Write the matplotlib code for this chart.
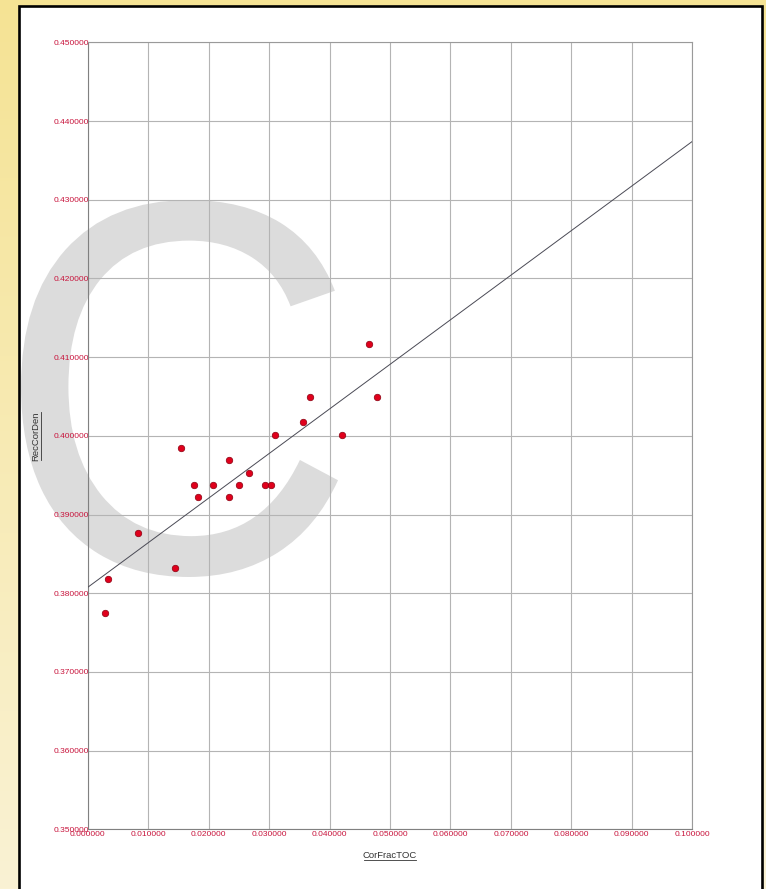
import numpy as np
import matplotlib
matplotlib.use("Agg")
import matplotlib.pyplot as plt
from matplotlib.patches import Rectangle, PathPatch
from matplotlib.lines import Line2D
from matplotlib.textpath import TextPath
from matplotlib.font_manager import FontProperties
from matplotlib.transforms import IdentityTransform, Affine2D

# Sample measurements
cor_frac_toc = [0.00291, 0.00341, 0.00827, 0.01444, 0.01538, 0.01763, 0.01829,
                0.02077, 0.02332, 0.02332, 0.02507, 0.02663, 0.02933, 0.03032,
                0.03103, 0.03556, 0.03682, 0.04201, 0.04653, 0.04790]
rec_cor_den = [0.37745, 0.38177, 0.38769, 0.38324, 0.39849, 0.39379, 0.39222,
               0.39379, 0.39689, 0.39226, 0.39379, 0.39531, 0.39379, 0.39379,
               0.40006, 0.40172, 0.40493, 0.40006, 0.41163, 0.40493]

x_ticks = [0.0, 0.01, 0.02, 0.03, 0.04, 0.05, 0.06, 0.07, 0.08, 0.09, 0.10]
y_ticks = [0.35, 0.36, 0.37, 0.38, 0.39, 0.40, 0.41, 0.42, 0.43, 0.44, 0.45]

W, H, DPI = 766, 889, 100
FONT = "Liberation Sans"
RED = "#c8143c"

fig = plt.figure(figsize=(W / DPI, H / DPI), dpi=DPI)

# Yellow backdrop with a soft vertical gradient
top = np.array([245, 227, 148]) / 255
bot = np.array([250, 242, 212]) / 255
t = np.linspace(0, 1, H)[:, None]
grad = top[None, :] * (1 - t) + bot[None, :] * t
grad = np.repeat(grad[:, None, :], W, axis=1)
fig.figimage(grad, 0, 0, zorder=-5)

# White panel with black border
panel = Rectangle((19, -20), 743, 883.5 + 20, facecolor="white",
                  edgecolor="black", linewidth=1.9,
                  transform=IdentityTransform(), zorder=-3)
fig.add_artist(panel)

# Large gray "C" mark behind the plot
tp = TextPath((0, 0), "C", size=100, prop=FontProperties(family=FONT))
ext = tp.get_extents()
x0, x1 = 21, 338
y0, y1 = H - 577, H - 200
tr = (Affine2D().translate(-ext.x0, -ext.y0)
      .scale((x1 - x0) / ext.width, (y1 - y0) / ext.height)
      .translate(x0, y0))
cpatch = PathPatch(tr.transform_path(tp), facecolor="#dcdcdc", edgecolor="none",
                   transform=IdentityTransform(), zorder=-2)
fig.add_artist(cpatch)

# Plot area
L, R, T, B = 87.7, 692.3, 42.3, 829.3
ax = fig.add_axes([L / W, (H - B) / H, (R - L) / W, (B - T) / H])
ax.set_facecolor("none")
ax.set_xlim(0, 0.1)
ax.set_ylim(0.35, 0.45)
ax.set_xticks(x_ticks)
ax.set_yticks(y_ticks)
ax.set_xticklabels([f"{v:.6f}" for v in x_ticks])
ax.set_yticklabels([f"{v:.6f}" for v in y_ticks])
ax.tick_params(length=0, pad=1, labelsize=6, labelcolor=RED)
for lab in ax.get_xticklabels() + ax.get_yticklabels():
    lab.set_fontfamily(FONT)
for lab in ax.get_yticklabels():
    lab.set_horizontalalignment("right")
ax.tick_params(axis="y", pad=-1)
ax.grid(True, color="#b4b4b4", linewidth=0.8)
ax.set_axisbelow(True)
for s in ax.spines.values():
    s.set_color("#9a9a9a")
    s.set_linewidth(0.8)
ax.spines["left"].set_color("#808080")
ax.spines["bottom"].set_color("#808080")

# Least-squares fit across the full x range
slope, intercept = np.polyfit(cor_frac_toc, rec_cor_den, 1)
xf = np.array([0.0, 0.1])
ax.plot(xf, intercept + slope * xf, color="#4a4a55", linewidth=0.7, zorder=3)

ax.scatter(cor_frac_toc, rec_cor_den, s=22, color="#e0001c",
           edgecolor="#8a0010", linewidth=0.5, zorder=4, clip_on=False)

# Underlined axis titles
xl = fig.text((L + R) / 2 / W, (H - 855) / H, "CorFracTOC", ha="center",
              va="center", fontsize=6.8, color="#333333", family=FONT)
yl = fig.text(35.5 / W, (H - (T + B) / 2) / H, "RecCorDen", ha="center",
              va="center", rotation=90, fontsize=6.8, color="#333333", family=FONT)

fig.canvas.draw()
rend = fig.canvas.get_renderer()
bx = xl.get_window_extent(rend)
fig.add_artist(Line2D([bx.x0 + 1, bx.x1 - 1], [H - 859.5, H - 859.5],
                      color="#333333", linewidth=0.6,
                      transform=IdentityTransform()))
by = yl.get_window_extent(rend)
fig.add_artist(Line2D([41.3, 41.3], [by.y0 + 1, by.y1 - 1],
                      color="#333333", linewidth=0.6,
                      transform=IdentityTransform()))

fig.savefig("out.png", dpi=DPI)
